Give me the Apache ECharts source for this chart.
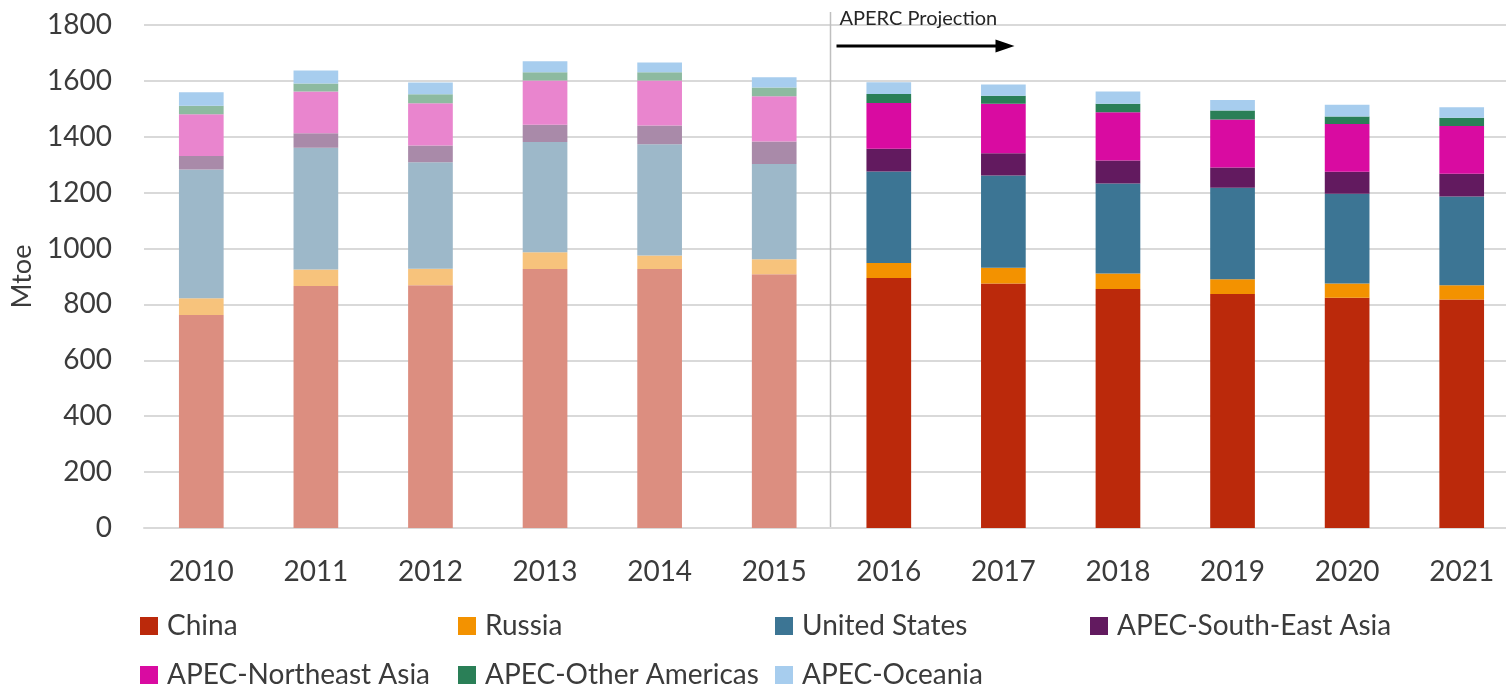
<!DOCTYPE html>
<html>
<head>
<meta charset="utf-8">
<script src="https://cdn.jsdelivr.net/npm/echarts@6/dist/echarts.min.js"></script>
<style>
  html, body { margin: 0; padding: 0; background: #fff; overflow: hidden; }
  #main { width: 1520px; height: 688px; }
</style>
</head>
<body>
<div id="main"></div>
<script>
// 年份
const years = ['2010', '2011', '2012', '2013', '2014', '2015', '2016', '2017', '2018', '2019', '2020', '2021']
// 各经济体数据 (Mtoe)
const china = [762, 866, 869, 927, 927, 908, 895, 875, 855, 837, 824, 818]
const russia = [60, 59, 59, 60, 48, 54, 53, 56, 56, 53, 51, 51]
const unitedStates = [461, 436, 381, 394, 398, 341, 328, 330, 322, 328, 321, 317]
const southEastAsia = [48, 52, 60, 62, 67, 80, 81, 80, 82, 72, 79, 82]
const northeastAsia = [150, 149, 151, 158, 161, 162, 164, 177, 173, 172, 171, 171]
const otherAmericas = [30, 29, 32, 30, 30, 31, 32, 29, 30, 32, 27, 29]
const oceania = [48, 46, 42, 39, 35, 37, 42, 40, 44, 38, 42, 38]
// 2015 年及以前为历史数据，之后为 APERC 预测
const lastHistory = 5

const fontName = 'Lato'
const textColor = '#3b3b3b'

// 每个系列: 名称, 数据, 预测色, 历史色
const seriesList = [
  ['China', china, '#bb290b', '#dc8e80'],
  ['Russia', russia, '#f39200', '#f7c37c'],
  ['United States', unitedStates, '#3c7594', '#9db8c9'],
  ['APEC-South-East Asia', southEastAsia, '#621a5f', '#a98aa9'],
  ['APEC-Northeast Asia', northeastAsia, '#d90ba1', '#e985ce'],
  ['APEC-Other Americas', otherAmericas, '#2a7f57', '#8dbaa0'],
  ['APEC-Oceania', oceania, '#a7cdee', '#a7cdee']
]

// 图例位置（两行四列）
const legendPos = [
  [140, 612], [458, 612], [775, 612], [1090, 612],
  [140, 661], [458, 661], [775, 661]
]

const myChart = echarts.init(document.querySelector('#main'))

const option = {
  animation: false,
  grid: {
    left: 144,
    right: 1,
    top: 25,
    bottom: 160
  },
  legend: seriesList.map((s, i) => ({
    data: [s[0]],
    left: legendPos[i][0],
    top: legendPos[i][1],
    padding: 0,
    icon: 'rect',
    itemWidth: 18,
    itemHeight: 18,
    textStyle: { fontFamily: fontName, fontSize: 28, color: textColor, padding: [0, 0, 0, 4] }
  })),
  xAxis: {
    type: 'category',
    data: years,
    axisTick: { show: false },
    axisLine: { lineStyle: { color: '#d9d9d9', width: 2 } },
    axisLabel: { fontFamily: fontName, fontSize: 28, color: textColor, margin: 30 }
  },
  yAxis: {
    type: 'value',
    min: 0,
    max: 1800,
    interval: 200,
    name: 'Mtoe',
    nameLocation: 'middle',
    nameGap: 104,
    nameTextStyle: { fontFamily: fontName, fontSize: 27, color: textColor },
    axisLabel: {
      fontFamily: fontName,
      fontSize: 28,
      color: textColor,
      margin: 32,
      formatter: v => String(v)
    },
    splitLine: { lineStyle: { color: '#d9d9d9', width: 2 } }
  },
  series: seriesList.map(s => ({
    name: s[0],
    type: 'bar',
    stack: 'total',
    barWidth: '39%',
    itemStyle: { color: s[2] },
    data: s[1].map((v, i) => ({
      value: v,
      itemStyle: { color: i <= lastHistory ? s[3] : s[2] }
    }))
  }))
}

myChart.setOption(option)

// 历史与预测的分隔线和说明
const xA = myChart.convertToPixel({ xAxisIndex: 0 }, years[lastHistory])
const xB = myChart.convertToPixel({ xAxisIndex: 0 }, years[lastHistory + 1])
const xSplit = Math.round((xA + xB) / 2) - 0.5
const yBottom = myChart.convertToPixel({ yAxisIndex: 0 }, 0)

myChart.setOption({
  graphic: [
    {
      type: 'line',
      shape: { x1: xSplit, y1: 12, x2: xSplit, y2: yBottom },
      style: { stroke: '#bfbfbf', lineWidth: 1.5 }
    },
    {
      type: 'text',
      left: xSplit + 9,
      top: 9,
      style: { text: 'APERC Projection', fontFamily: fontName, fontSize: 20, fill: '#262626' }
    },
    {
      type: 'line',
      shape: { x1: xSplit + 6, y1: 46, x2: xSplit + 168, y2: 46 },
      style: { stroke: '#000', lineWidth: 3 }
    },
    {
      type: 'polygon',
      shape: { points: [[xSplit + 165, 39.5], [xSplit + 184, 46], [xSplit + 165, 52.5]] },
      style: { fill: '#000' }
    }
  ]
})
</script>
</body>
</html>
